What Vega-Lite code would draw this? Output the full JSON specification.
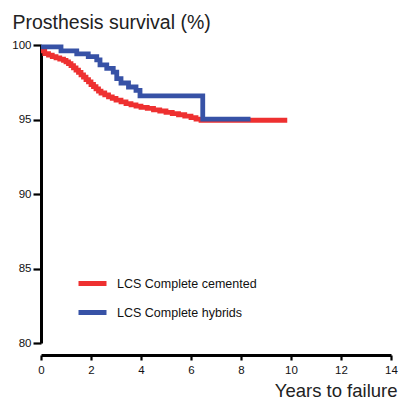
{
  "$schema": "https://vega.github.io/schema/vega-lite/v6.json",
  "width": 350,
  "height": 298,
  "autosize": {"type": "none"},
  "padding": {"left": 41, "top": 45, "right": 10, "bottom": 58},
  "background": "white",
  "config": {
    "view": {"stroke": null},
    "font": "Liberation Sans",
    "axis": {"grid": false, "domainColor": "#000", "tickColor": "#000", "labelColor": "#111", "labelFont": "Liberation Sans", "labelFontSize": 11.5, "titleFont": "Liberation Sans", "titleFontWeight": "normal", "titleColor": "#222"}
  },
  "data": {"values": [
    {"group": "LCS Complete cemented", "t": 0, "v": 99.6},
    {"group": "LCS Complete cemented", "t": 0.15, "v": 99.42},
    {"group": "LCS Complete cemented", "t": 0.3, "v": 99.32},
    {"group": "LCS Complete cemented", "t": 0.45, "v": 99.22},
    {"group": "LCS Complete cemented", "t": 0.6, "v": 99.13},
    {"group": "LCS Complete cemented", "t": 0.75, "v": 99.05},
    {"group": "LCS Complete cemented", "t": 0.9, "v": 98.97},
    {"group": "LCS Complete cemented", "t": 1.0, "v": 98.87},
    {"group": "LCS Complete cemented", "t": 1.1, "v": 98.75},
    {"group": "LCS Complete cemented", "t": 1.2, "v": 98.62},
    {"group": "LCS Complete cemented", "t": 1.3, "v": 98.46},
    {"group": "LCS Complete cemented", "t": 1.4, "v": 98.31},
    {"group": "LCS Complete cemented", "t": 1.5, "v": 98.16},
    {"group": "LCS Complete cemented", "t": 1.6, "v": 98.0},
    {"group": "LCS Complete cemented", "t": 1.7, "v": 97.85},
    {"group": "LCS Complete cemented", "t": 1.8, "v": 97.68},
    {"group": "LCS Complete cemented", "t": 1.9, "v": 97.52},
    {"group": "LCS Complete cemented", "t": 2.0, "v": 97.35},
    {"group": "LCS Complete cemented", "t": 2.1, "v": 97.2},
    {"group": "LCS Complete cemented", "t": 2.2, "v": 97.05},
    {"group": "LCS Complete cemented", "t": 2.3, "v": 96.9},
    {"group": "LCS Complete cemented", "t": 2.4, "v": 96.78},
    {"group": "LCS Complete cemented", "t": 2.55, "v": 96.65},
    {"group": "LCS Complete cemented", "t": 2.7, "v": 96.52},
    {"group": "LCS Complete cemented", "t": 2.85, "v": 96.42},
    {"group": "LCS Complete cemented", "t": 3.0, "v": 96.3},
    {"group": "LCS Complete cemented", "t": 3.2, "v": 96.18},
    {"group": "LCS Complete cemented", "t": 3.4, "v": 96.07},
    {"group": "LCS Complete cemented", "t": 3.6, "v": 95.98},
    {"group": "LCS Complete cemented", "t": 3.8, "v": 95.9},
    {"group": "LCS Complete cemented", "t": 4.0, "v": 95.82},
    {"group": "LCS Complete cemented", "t": 4.25, "v": 95.74},
    {"group": "LCS Complete cemented", "t": 4.5, "v": 95.65},
    {"group": "LCS Complete cemented", "t": 4.75, "v": 95.57},
    {"group": "LCS Complete cemented", "t": 5.0, "v": 95.48},
    {"group": "LCS Complete cemented", "t": 5.25, "v": 95.4},
    {"group": "LCS Complete cemented", "t": 5.5, "v": 95.32},
    {"group": "LCS Complete cemented", "t": 5.75, "v": 95.22},
    {"group": "LCS Complete cemented", "t": 6.0, "v": 95.12},
    {"group": "LCS Complete cemented", "t": 6.2, "v": 95.02},
    {"group": "LCS Complete cemented", "t": 6.4, "v": 94.95},
    {"group": "LCS Complete cemented", "t": 9.85, "v": 94.95},
    {"group": "LCS Complete hybrids", "t": 0, "v": 99.88},
    {"group": "LCS Complete hybrids", "t": 0.8, "v": 99.6},
    {"group": "LCS Complete hybrids", "t": 1.43, "v": 99.4},
    {"group": "LCS Complete hybrids", "t": 1.89, "v": 99.22},
    {"group": "LCS Complete hybrids", "t": 2.23, "v": 99.0},
    {"group": "LCS Complete hybrids", "t": 2.36, "v": 98.66},
    {"group": "LCS Complete hybrids", "t": 2.63, "v": 98.43},
    {"group": "LCS Complete hybrids", "t": 2.89, "v": 98.18},
    {"group": "LCS Complete hybrids", "t": 3.03, "v": 97.75},
    {"group": "LCS Complete hybrids", "t": 3.2, "v": 97.45},
    {"group": "LCS Complete hybrids", "t": 3.5, "v": 97.18},
    {"group": "LCS Complete hybrids", "t": 3.8, "v": 96.95},
    {"group": "LCS Complete hybrids", "t": 3.96, "v": 96.58},
    {"group": "LCS Complete hybrids", "t": 6.47, "v": 95.02},
    {"group": "LCS Complete hybrids", "t": 8.38, "v": 95.02}
  ]},
  "mark": {"type": "line", "interpolate": "step-after", "strokeWidth": 4.8, "clip": false},
  "encoding": {
    "x": {
      "field": "t", "type": "quantitative",
      "scale": {"domain": [0, 14], "nice": false, "zero": false},
      "axis": {
        "title": "Years to failure", "values": [0, 2, 4, 6, 8, 10, 12, 14], "format": "d",
        "offset": 12, "domainWidth": 3, "tickWidth": 2.2, "tickSize": 5, "labelPadding": 4,
        "labelFlush": false, "titleFontSize": 18.5, "titleAlign": "right", "titleAnchor": null,
        "titleX": 356, "titleY": 41, "titleBaseline": "alphabetic"
      }
    },
    "y": {
      "field": "v", "type": "quantitative",
      "scale": {"domain": [80, 100], "nice": false, "zero": false},
      "axis": {
        "title": "Prosthesis survival (%)", "values": [80, 85, 90, 95, 100],
        "domainWidth": 3, "tickWidth": 2.2, "tickSize": 8, "labelPadding": 2,
        "labelFlush": false, "titleFontSize": 19.5, "titleAngle": 0, "titleAlign": "left",
        "titleX": -29, "titleY": -17, "titleBaseline": "alphabetic"
      }
    },
    "color": {
      "field": "group", "type": "nominal",
      "scale": {"domain": ["LCS Complete cemented", "LCS Complete hybrids"], "range": ["#ee3030", "#3752a6"]},
      "legend": {
        "title": null, "orient": "none", "legendX": 35, "legendY": 222,
        "symbolType": "stroke", "symbolSize": 784, "symbolStrokeWidth": 5,
        "labelFontSize": 12.5, "labelColor": "#111", "labelOffset": 8, "rowPadding": 2, "padding": 0
      }
    }
  }
}
